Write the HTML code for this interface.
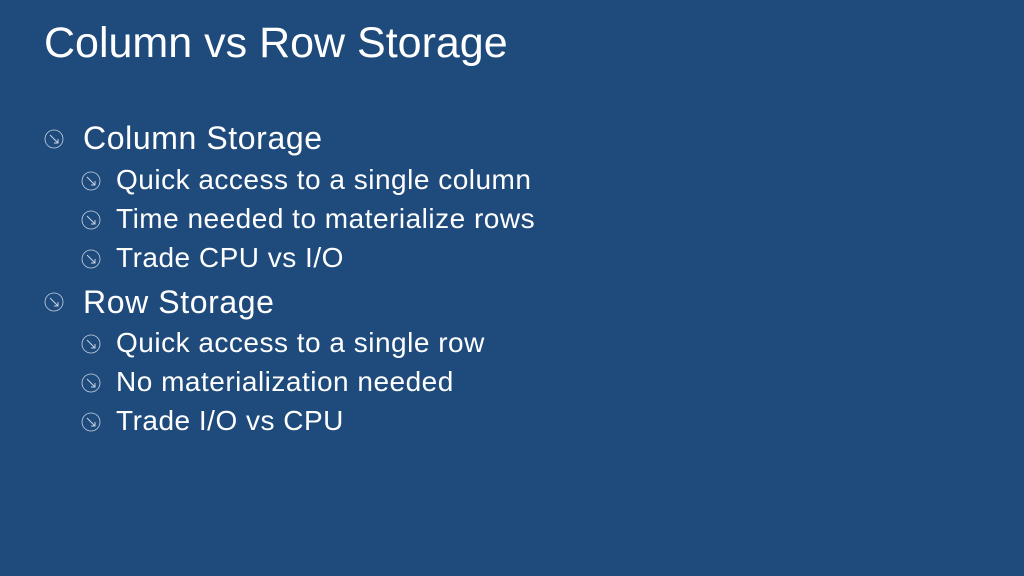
<!DOCTYPE html>
<html><head><style>
body{margin:0;width:1024px;height:576px;background:#1f4b7c;overflow:hidden;font-family:"Liberation Sans",sans-serif;color:#fff;position:relative}
.t{position:absolute;left:44px;top:19px;font-size:43px;letter-spacing:0;white-space:nowrap}
.l{position:absolute;white-space:nowrap;line-height:1}
.l1{left:83px;font-size:32px;letter-spacing:0.6px;margin-top:-2px}
.l2{left:116px;font-size:28px;letter-spacing:0.5px;margin-top:-2px}
</style></head><body>
<div class="t">Column vs Row Storage</div>
<svg width="1024" height="576" style="position:absolute;left:0;top:0">
<defs><g id="bi"><circle cx="0" cy="0" r="9" fill="none" stroke="#c8d3e2" stroke-width="0.8"/><line x1="-4" y1="-4" x2="4" y2="4" stroke="#c8d3e2" stroke-width="1"/><polyline points="0,4 4,4 4,0" fill="none" stroke="#c8d3e2" stroke-width="1"/></g></defs>
<use href="#bi" x="54" y="139"/>
<use href="#bi" x="91" y="181"/>
<use href="#bi" x="91" y="220"/>
<use href="#bi" x="91" y="259"/>
<use href="#bi" x="54" y="302"/>
<use href="#bi" x="91" y="344"/>
<use href="#bi" x="91" y="383"/>
<use href="#bi" x="91" y="422"/>
</svg>
<div class="l l1" style="top:124px">Column Storage</div>
<div class="l l2" style="top:168px">Quick access to a single column</div>
<div class="l l2" style="top:207px">Time needed to materialize rows</div>
<div class="l l2" style="top:246px">Trade CPU vs I/O</div>
<div class="l l1" style="top:288px">Row Storage</div>
<div class="l l2" style="top:331px">Quick access to a single row</div>
<div class="l l2" style="top:370px">No materialization needed</div>
<div class="l l2" style="top:409px">Trade I/O vs CPU</div>
</body></html>
